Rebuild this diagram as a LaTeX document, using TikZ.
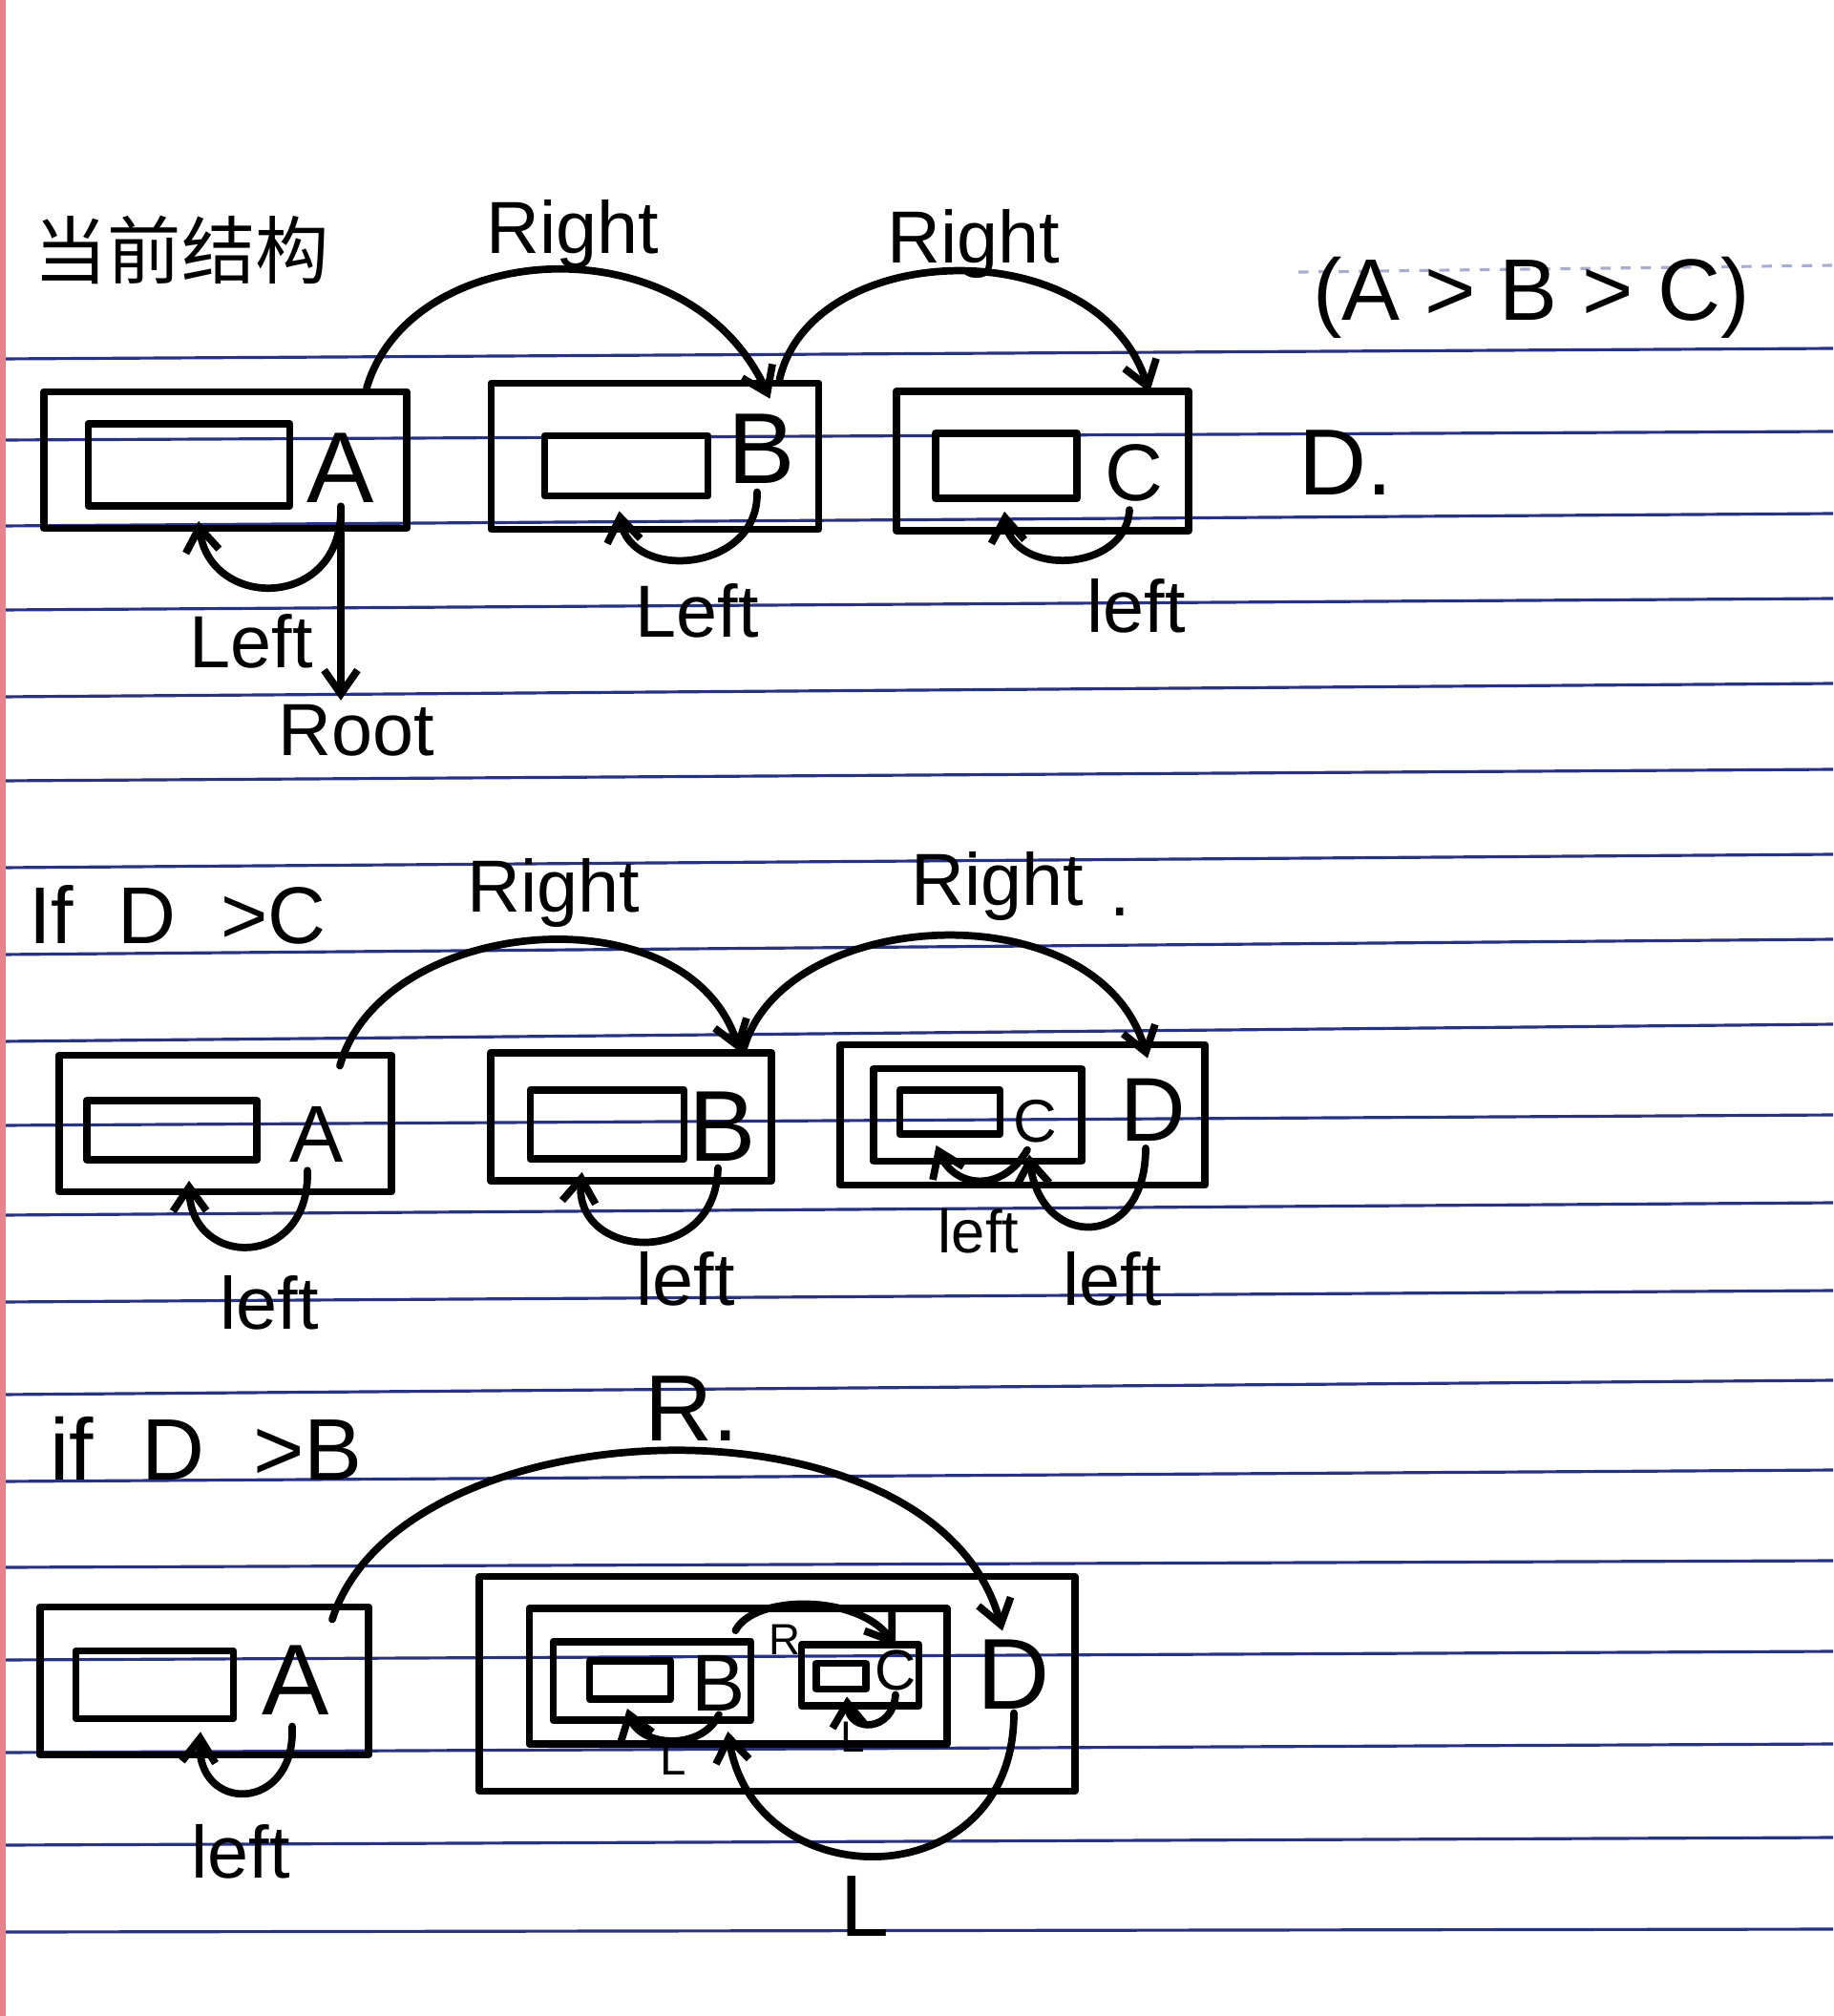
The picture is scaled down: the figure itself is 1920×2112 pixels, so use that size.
\documentclass[tikz,border=0pt]{standalone}
\usepackage{fontspec}
\setmainfont{Liberation Sans}
\newfontfamily\cjk{Noto Sans CJK SC}
\usetikzlibrary{arrows.meta,calc}

\definecolor{ruleblue}{RGB}{40,50,130}
\definecolor{margin}{RGB}{230,130,140}

\tikzset{
  ink/.style={line width=2.2pt, line cap=round, line join=round},
  cell/.style 2 args={draw, ink, minimum width=#1, minimum height=#2, inner sep=0pt},
  glyph/.style={font=\fontsize{#1}{#1}\selectfont, inner sep=1pt},
  ruled/.style={ruleblue, line width=0.9pt},
}

\begin{document}
\begin{tikzpicture}[x=0.01cm, y=-0.01cm, >={Straight Barb[length=2.5mm,width=3.5mm]}]
        \useasboundingbox (0,0) rectangle (1920,2112);
        \fill[white] (0,0) rectangle (1920,2112);
        \foreach \yl/\yr in {376/365,461/452,551/538,639/627,730/716,818/806,909/895,1000/984,1091/1073,1179/1168,1273/1260,1364/1352,1461/1446,1552/1540,1642/1635,1739/1730,1836/1827,1933/1925,2024/2021}
          \draw[ruled] (0,\yl) -- (1920,\yr);
        \draw[ruled, dashed, opacity=0.4] (1360,285) -- (1920,278);
        \draw[margin, line width=1.5pt] (3,0) -- (3,2112);

        % current structure
        \node[glyph=22] (title) at (190,262) {\cjk 当前结构};
        \node[cell={3.8cm}{1.43cm}] (boxA) at (236,482) {};
        \node[cell={2.11cm}{0.86cm}] (inA) at (198,487) {};
        \node[glyph=30] (letA) at (357,490) {A};
        \node[cell={3.43cm}{1.53cm}] (boxB) at (686,478) {};
        \node[cell={1.71cm}{0.63cm}] (inB) at (656,488) {};
        \node[glyph=30] (letB) at (798,470) {B};
        \node[cell={3.06cm}{1.46cm}] (boxC) at (1092,483) {};
        \node[cell={1.48cm}{0.68cm}] (inC) at (1054,488) {};
        \node[glyph=24] (letC) at (1188,495) {C};
        \node[glyph=22] (rAB) at (600,245) {Right};
        \node[glyph=22] (rBC) at (1020,255) {Right};
        \node[glyph=22] (lA) at (263,672) {Left};
        \node[glyph=22] (lB) at (730,640) {Left};
        \node[glyph=22] (lC) at (1190,635) {left};
        \node[glyph=22] (root) at (373,765) {Root};
        \node[glyph=26] (order) at (1604,312) {(A > B > C)};
        \node[glyph=28] (newD) at (1410,485) {D.};
        \draw[ink,->] ($(boxA.north east)+(-46,0)$) .. controls (430,250) and (720,230) .. ($(boxB.north east)+(-55,20)$);
        \draw[ink,->] ($(boxB.north east)+(-45,0)$) .. controls (850,250) and (1150,240) .. ($(boxC.north east)+(-45,5)$);
        \draw[ink,->] (letA.south) .. controls (360,640) and (220,640) .. ($(inA.south)+(10,12)$);
        \draw[ink,->] (letA.south) -- (letA.south |- root.north);
        \draw[ink,->] ($(letB.south)+(-5,5)$) .. controls (795,600) and (660,610) .. ($(inB.south west)+(82,12)$);
        \draw[ink,->] ($(letC.south)+(-5,5)$) .. controls (1180,600) and (1060,605) .. ($(inC.south west)+(76,10)$);

        % if D > C
        \node[glyph=24] (condC) at (186,958) {If\ \ D\ \ >C};
        \node[cell={3.48cm}{1.43cm}] (boxA2) at (236,1177) {};
        \node[cell={1.78cm}{0.62cm}] (inA2) at (180,1184) {};
        \node[glyph=24] (letA2) at (332,1188) {A};
        \node[cell={2.94cm}{1.34cm}] (boxB2) at (661,1170) {};
        \node[cell={1.61cm}{0.72cm}] (inB2) at (636,1178) {};
        \node[glyph=30] (letB2) at (757,1180) {B};
        \node[cell={3.82cm}{1.47cm}] (boxD2) at (1071,1168) {};
        \node[cell={2.18cm}{0.97cm}] (boxC2) at (1024,1168) {};
        \node[cell={1.05cm}{0.46cm}] (inC2) at (995,1165) {};
        \node[glyph=18] (letC2) at (1084,1175) {C};
        \node[glyph=27] (letD2) at (1208,1163) {D};
        \node[glyph=22] (rA2) at (580,935) {Right};
        \node[glyph=22] (rB2) at (1045,928) {Right};
        \node[glyph=22] (dot2) at (1173,955) {.};
        \node[glyph=22] (lA2) at (282,1365) {left};
        \node[glyph=22] (lB2) at (718,1340) {left};
        \node[glyph=18] (lC2) at (1025,1290) {left};
        \node[glyph=22] (lD2) at (1165,1340) {left};
        \draw[ink,->] ($(boxA2.north east)+(-58,15)$) .. controls (400,960) and (720,930) .. ($(boxB2.north east)+(-37,3)$);
        \draw[ink,->] ($(boxB2.north east)+(-33,0)$) .. controls (820,950) and (1150,930) .. ($(boxD2.north east)+(-64,18)$);
        \draw[ink,->] ($(letA2.south)+(-10,5)$) .. controls (325,1330) and (200,1330) .. ($(inA2.south)+(18,18)$);
        \draw[ink,->] ($(letB2.south)+(-5,3)$) .. controls (750,1330) and (600,1320) .. ($(inB2.south west)+(58,10)$);
        \draw[ink,->] ($(letC2.south)+(-8,3)$) .. controls (1050,1250) and (1000,1245) .. ($(inC2.south west)+(42,8)$);
        \draw[ink,->] ($(letD2.south)+(-8,3)$) .. controls (1200,1310) and (1090,1310) .. ($(letC2.south)+(-6,8)$);

        % if D > B
        \node[glyph=26] (condB) at (216,1517) {if\ \ D\ \ >B};
        \node[cell={3.44cm}{1.55cm}] (boxA3) at (214,1761) {};
        \node[cell={1.65cm}{0.71cm}] (inA3) at (162,1765) {};
        \node[glyph=30] (letA3) at (310,1760) {A};
        \node[cell={6.23cm}{2.25cm}] (boxD3) at (814,1764) {};
        \node[cell={4.37cm}{1.42cm}] (boxBC3) at (773,1756) {};
        \node[cell={2.07cm}{0.82cm}] (boxB3) at (683,1761) {};
        \node[cell={0.85cm}{0.40cm}] (inB3) at (660,1760) {};
        \node[glyph=24] (letB3) at (753,1763) {B};
        \node[cell={1.23cm}{0.64cm}] (boxC3) at (901,1755) {};
        \node[cell={0.52cm}{0.27cm}] (inC3) at (881,1756) {};
        \node[glyph=17] (letC3) at (938,1750) {C};
        \node[glyph=30] (letD3) at (1062,1754) {D};
        \node[glyph=28] (rA3) at (725,1476) {R.};
        \node[glyph=13] (rB3) at (822,1718) {R};
        \node[glyph=14] (lB3) at (705,1843) {L};
        \node[glyph=13] (lC3) at (893,1820) {L};
        \node[glyph=26] (lD3) at (906,1997) {L};
        \node[glyph=22] (lA3) at (252,1940) {left};
        \draw[ink,->] ($(boxA3.north east)+(-42,17)$) .. controls (420,1470) and (980,1450) .. ($(letD3.north)+(-12,-5)$);
        \draw[ink,->] ($(boxB3.north east)+(-20,-8)$) .. controls (790,1670) and (900,1670) .. (letC3.north);
        \draw[ink,->] (letB3.south) .. controls (735,1835) and (670,1830) .. ($(inB3.south)+(-3,6)$);
        \draw[ink,->] (letC3.south) .. controls (935,1815) and (890,1815) .. ($(inC3.south)+(6,4)$);
        \draw[ink,->] (letD3.south) .. controls (1062,1990) and (790,1990) .. ($(boxB3.south east)+(-28,8)$);
        \draw[ink,->] ($(letA3.south)+(-4,8)$) .. controls (310,1900) and (205,1900) .. ($(inA3.south)+(48,10)$);
      \end{tikzpicture}
\end{document}
